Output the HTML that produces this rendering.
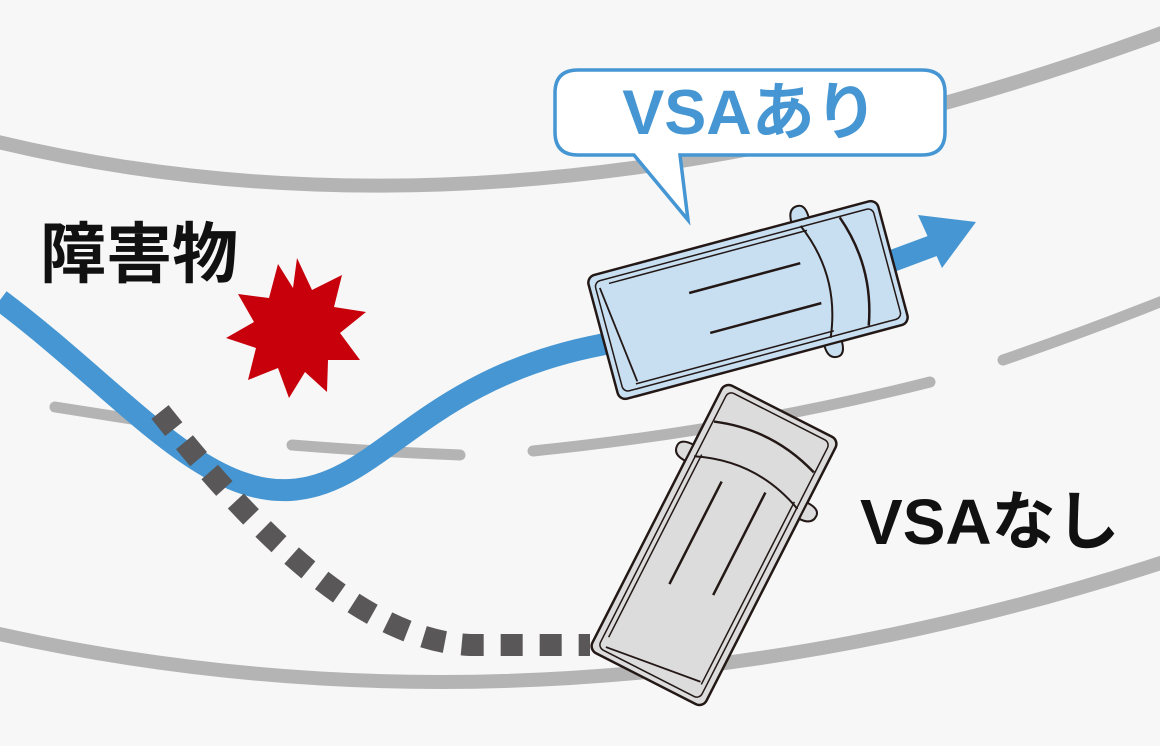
<!DOCTYPE html>
<html><head><meta charset="utf-8"><style>
html,body{margin:0;padding:0;background:#f7f7f7;}
svg{display:block}
text{font-family:"Liberation Sans","Noto Sans CJK JP",sans-serif;font-weight:bold}
</style></head><body>
<svg width="1160" height="746" viewBox="0 0 1160 746" xmlns="http://www.w3.org/2000/svg">
<defs>
<g id="car">
  <rect x="-150" y="-64" width="300" height="128" rx="8" fill="inherit" stroke="#231815" stroke-width="2.5"/>
  <rect x="-144" y="-57" width="288" height="114" rx="6" fill="none" stroke="#231815" stroke-width="1.5"/>
  <path d="M-140,-50 L-128,50" stroke="#231815" stroke-width="1.8" fill="none"/>
  <path d="M-130,-52 L75,-52 M-130,52 L75,52" stroke="#231815" stroke-width="1.5"/>
  <path d="M70,-58 Q95,0 70,58" stroke="#231815" stroke-width="2" fill="none"/>
  <path d="M110,-56 Q130,0 110,56" stroke="#231815" stroke-width="2.5" fill="none"/>
  <path d="M-55,-22 L60,-22 M-45,22 L70,22" stroke="#231815" stroke-width="2.5"/>
  <path d="M62,-64 q0,-14 10,-14 q8,0 8,14 z M62,64 q0,14 10,14 q8,0 8,-14 z" fill="inherit" stroke="#231815" stroke-width="2"/>
</g>
</defs>
<rect width="1160" height="746" fill="#f7f7f7"/>
<g fill="none" stroke="#b4b4b5" stroke-linecap="round">
  <path d="M-10,140 Q520,270 1170,30" stroke-width="14"/>
  <path d="M-10,632 Q560,760 1170,560" stroke-width="14"/>
  <path d="M55,407 L170,425" stroke-width="11"/>
  <path d="M292,445 Q380,452 460,455" stroke-width="11"/>
  <path d="M533,451 Q740,430 930,382" stroke-width="11"/>
  <path d="M1003,360 Q1090,330 1165,300" stroke-width="11"/>
</g>
<path d="M0,300 C120,390 200,495 290,490 C380,485 420,380 600,345 L760,310 L935,245" fill="none" stroke="#4596d3" stroke-width="22"/>
<polygon points="976,222 918,215 942,268" fill="#4596d3"/>
<path d="M160,412 C230,500 350,640 470,645 L590,645" fill="none" stroke="#595757" stroke-width="22" stroke-dasharray="22,17"/>
<polygon fill="#c7000b" points="297,258 312,290 342,275 334,307 366,312 340,333 360,360 328,360 327,392 305,372 289,398 278,368 248,380 256,348 226,338 254,322 238,294 269,298 278,264 293,288"/>
<g transform="translate(748,300) rotate(-15)" fill="#c8dff2"><use href="#car"/></g>
<g transform="translate(714,545) rotate(-63)" fill="#dcdcdd"><use href="#car"/></g>
<path d="M578,70 H922 Q945,70 945,93 V132 Q945,155 922,155 H680 L688,220 L634,155 H578 Q555,155 555,132 V93 Q555,70 578,70 Z" fill="#fff" stroke="#4596d3" stroke-width="3.5"/>
<text x="750" y="134" font-size="63" fill="#4596d3" text-anchor="middle">VSAあり</text>
<text x="40" y="277" font-size="66" fill="#111">障害物</text>
<text x="860" y="544" font-size="64" fill="#111">VSAなし</text>
</svg>
</body></html>
